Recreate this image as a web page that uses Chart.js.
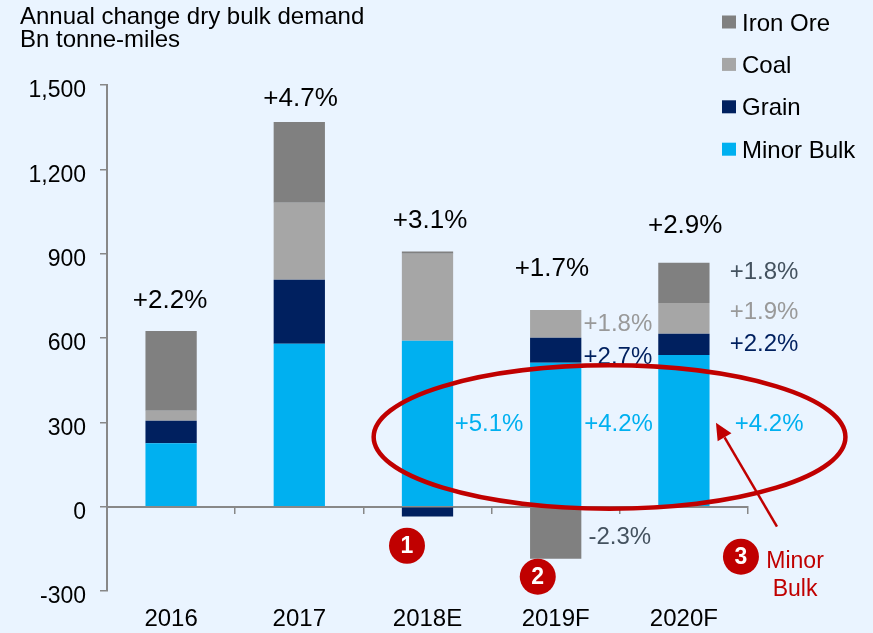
<!DOCTYPE html>
<html>
<head>
<meta charset="utf-8">
<script src="https://cdn.jsdelivr.net/npm/chart.js@4"></script>
<style>
html,body{margin:0;padding:0;background:#EAF4FF;}
canvas{display:block;}
</style>
</head>
<body>
<canvas id="c" width="873" height="633"></canvas>
<script>
const categories = ['2016','2017','2018E','2019F','2020F'];
const minorBulk = [226, 580, 590, 512, 540];
const grain = [80, 227, -35, 89, 75];
const coal = [35, 274, 310, 99, 110];
const ironOre = [284, 288, 8, -185, 143];
const yTickValues = [-300, 0, 300, 600, 900, 1200, 1500];

const IRON = '#808080', COAL = '#A6A6A6', GRAIN = '#00205F', MINOR = '#00B0F0';
const RED = '#C00000', SLATE = '#44525F', FONT = '"Liberation Sans", Arial, sans-serif';

// [text, category position, value position, colour, size]
const notes = [
  ['+2.2%', -0.008, 739, '#000', 26],
  ['+4.7%', 1.01, 1457, '#000', 26],
  ['+3.1%', 2.02, 1024, '#000', 26],
  ['+1.7%', 2.97, 853, '#000', 26],
  ['+2.9%', 4.01, 1006, '#000', 26],
  ['+1.8%', 4.625, 842, SLATE, 24],
  ['+1.9%', 4.625, 700, '#999999', 24],
  ['+2.2%', 4.625, 583, GRAIN, 24],
  ['+4.2%', 4.665, 299, MINOR, 24],
  ['+1.8%', 3.485, 654, '#999999', 24],
  ['+2.7%', 3.485, 540, GRAIN, 24],
  ['+4.2%', 3.49, 299, MINOR, 24],
  ['+5.1%', 2.48, 299, MINOR, 24],
  ['-2.3%', 3.5, -103, SLATE, 24],
  ['Minor', 4.867, -188, RED, 23],
  ['Bulk', 4.867, -288, RED, 23]
];
const badges = [['1', 1.84, -139], ['2', 2.86, -249], ['3', 4.445, -178]];

const overlay = {
  id: 'overlay',
  afterDraw(chart) {
    const ctx = chart.ctx, xs = chart.scales.x, ys = chart.scales.y;
    const px = v => xs.getPixelForValue(v), py = v => ys.getPixelForValue(v);
    ctx.save();
    ctx.textAlign = 'center';
    ctx.textBaseline = 'middle';
    notes.forEach(([t, a, b, col, size]) => {
      ctx.font = size + 'px ' + FONT;
      ctx.fillStyle = col;
      ctx.fillText(t, px(a), py(b) + 2);
    });
    // ellipse
    const cx = px(3.42), cy = py(248);
    ctx.strokeStyle = RED;
    ctx.lineWidth = 4.5;
    ctx.beginPath();
    ctx.ellipse(cx, cy, px(1.84) - px(0), py(0) - py(255), 0, 0, Math.PI * 2);
    ctx.stroke();
    // arrow
    const x1 = px(4.726), y1 = py(-71), x2 = px(4.25), y2 = py(299);
    const ang = Math.atan2(y2 - y1, x2 - x1), hl = 17, hw = 8;
    const bx = x2 - hl * Math.cos(ang), by = y2 - hl * Math.sin(ang);
    ctx.lineWidth = 2.5;
    ctx.beginPath(); ctx.moveTo(x1, y1); ctx.lineTo(bx, by); ctx.stroke();
    ctx.fillStyle = RED;
    ctx.beginPath();
    ctx.moveTo(x2, y2);
    ctx.lineTo(bx - hw * Math.sin(ang), by + hw * Math.cos(ang));
    ctx.lineTo(bx + hw * Math.sin(ang), by - hw * Math.cos(ang));
    ctx.closePath(); ctx.fill();
    // numbered badges
    badges.forEach(([t, a, b]) => {
      ctx.fillStyle = RED;
      ctx.beginPath(); ctx.arc(px(a), py(b), 18, 0, Math.PI * 2); ctx.fill();
      ctx.fillStyle = '#fff';
      ctx.font = 'bold 23px ' + FONT;
      ctx.fillText(t, px(a), py(b) + 1);
    });
    // legend
    const ds = chart.data.datasets.slice().reverse();
    ctx.textAlign = 'left';
    ctx.font = '24px ' + FONT;
    ds.forEach((d, i) => {
      const y = 22 + i * 42.4;
      ctx.fillStyle = d.backgroundColor;
      ctx.fillRect(722, y - 6.5, 14, 13);
      ctx.fillStyle = '#000';
      ctx.fillText(d.label, 742, y + 2);
    });
    ctx.restore();
  }
};

new Chart(document.getElementById('c'), {
  type: 'bar',
  plugins: [overlay],
  data: {
    labels: categories,
    datasets: [
      { label: 'Minor Bulk', data: minorBulk, backgroundColor: MINOR },
      { label: 'Grain', data: grain, backgroundColor: GRAIN },
      { label: 'Coal', data: coal, backgroundColor: COAL },
      { label: 'Iron Ore', data: ironOre, backgroundColor: IRON }
    ]
  },
  options: {
    responsive: false,
    animation: false,
    layout: { padding: { left: 20, right: 125, top: 6, bottom: 0 } },
    datasets: { bar: { categoryPercentage: 1, barPercentage: 0.4 } },
    plugins: {
      legend: { display: false },
      tooltip: { enabled: false },
      title: {
        display: true,
        align: 'start',
        text: ['Annual change dry bulk demand', 'Bn tonne-miles'],
        color: '#000',
        font: { family: FONT, size: 24, weight: 'normal', lineHeight: 0.96 },
        padding: { top: 0, bottom: 33 }
      }
    },
    scales: {
      x: {
        stacked: true,
        grid: { display: false, drawTicks: false },
        border: { display: false },
        ticks: { color: '#000', font: { family: FONT, size: 24 }, padding: 14, maxRotation: 0 },
        afterFit(s) { s.height = 42; }
      },
      x2: {
        type: 'category',
        labels: categories,
        position: { y: 0 },
        grid: { drawOnChartArea: false, drawTicks: true, tickLength: 6, color: '#888888', lineWidth: 1.5, offset: true },
        border: { color: '#888888', width: 2 },
        ticks: { display: false }
      },
      y: {
        stacked: true,
        min: -300,
        max: 1500,
        afterBuildTicks(s) { s.ticks = yTickValues.map(v => ({ value: v })); },
        grid: { drawOnChartArea: false, drawTicks: true, tickLength: 7, color: '#888888', lineWidth: 1.5 },
        border: { color: '#888888', width: 2 },
        ticks: {
          color: '#000',
          font: { family: FONT, size: 23, lineHeight: '12px' },
          padding: 14,
          callback: v => ['', v.toLocaleString('en-US')]
        },
        afterFit(s) { s.width = 87; }
      }
    }
  }
});
</script>
</body>
</html>
